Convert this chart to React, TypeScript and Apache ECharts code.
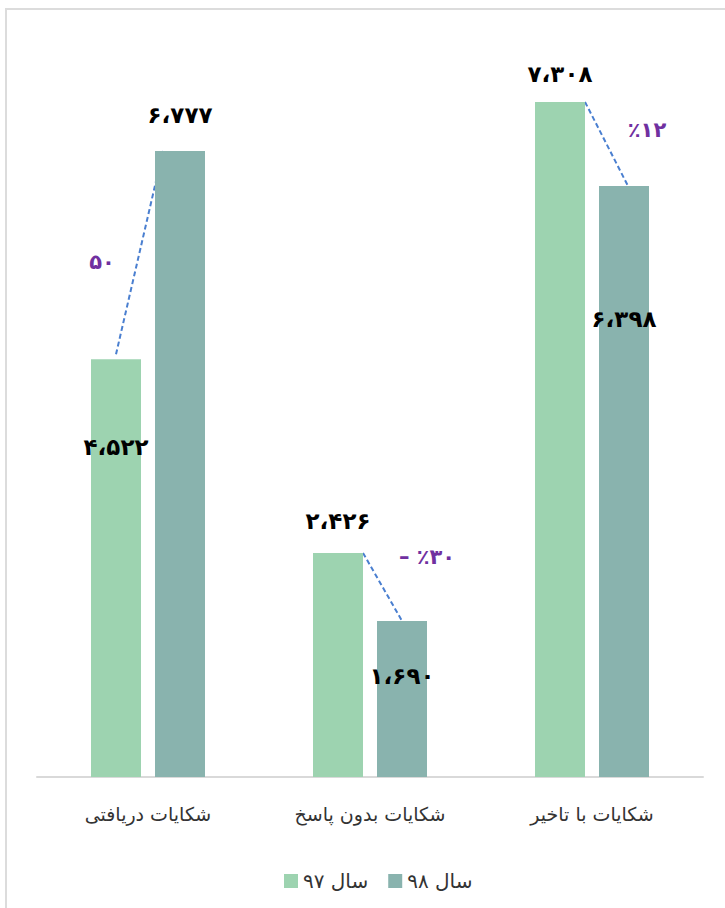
import React, { useEffect, useRef } from "react";
import * as echarts from "echarts";

const categories = ["شکایات دریافتی", "شکایات بدون پاسخ", "شکایات با تاخیر"];
const seriesNames = ["سال ۹۷", "سال ۹۸"];
const values97 = [4522, 2426, 7308];
const values98 = [6777, 1690, 6398];
const changeLabels = ["۵۰", "– ٪۳۰", "٪۱۲"];

const FONT = "'DejaVu Sans', 'Noto Sans', sans-serif";

const toFa = (n: number) => {
  const d = "۰۱۲۳۴۵۶۷۸۹";
  const s = String(n).replace(/\d/g, (c) => d[+c]);
  if (s.length > 3) return s.slice(0, s.length - 3) + "،" + s.slice(s.length - 3);
  return s;
};

// label placement per bar: "top" with distance, or inside offset from bar top
const place97: any[] = [{ inside: 88 }, { top: 20 }, { top: 16 }];
const place98: any[] = [{ top: 24 }, { inside: 55 }, { inside: 133 }];

const mkLabel = (p: any) =>
  p.top !== undefined
    ? { show: true, position: "top", distance: p.top }
    : { show: true, position: ["50%", p.inside], align: "center", verticalAlign: "middle" };

export default function App() {
  const ref = useRef<HTMLDivElement>(null);
  useEffect(() => {
    const chart = echarts.init(ref.current!, null, { renderer: "svg" });
    const labelStyle = {
      color: "#000",
      fontSize: 23,
      fontWeight: "bold" as const,
      fontFamily: FONT,
      formatter: (p: any) => toFa(p.value),
    };
    chart.setOption({
      animation: false,
      backgroundColor: "#fff",
      grid: { left: 37, right: 22, top: 38, bottom: 131 },
      legend: {
        data: seriesNames,
        left: 279,
        top: 866,
        itemWidth: 14,
        itemHeight: 14,
        itemGap: 20,
        icon: "rect",
        textStyle: { fontSize: 20, color: "#333", fontFamily: FONT },
      },
      xAxis: {
        type: "category",
        data: categories,
        axisLine: { lineStyle: { color: "#d9d9d9", width: 2 } },
        axisTick: { show: false },
        axisLabel: { fontSize: 19, color: "#333", fontFamily: FONT, margin: 27 },
      },
      yAxis: {
        type: "value",
        min: 0,
        max: 8000,
        show: false,
        splitLine: { show: false },
      },
      series: [
        {
          name: seriesNames[0],
          type: "bar",
          barWidth: 50,
          barGap: "28%",
          itemStyle: { color: "#9dd3b0" },
          data: values97.map((v, i) => ({ value: v, label: { ...mkLabel(place97[i]), ...labelStyle } })),
        },
        {
          name: seriesNames[1],
          type: "bar",
          barWidth: 50,
          itemStyle: { color: "#89b3ae" },
          data: values98.map((v, i) => ({ value: v, label: { ...mkLabel(place98[i]), ...labelStyle } })),
        },
      ],
    });

    const half = 32; // (barWidth + gap) / 2
    const bw = 50;
    const graphics: any[] = [
      {
        type: "rect",
        shape: { x: 6, y: 9, width: 760, height: 940 },
        style: { fill: "none", stroke: "#dcdcdc", lineWidth: 2 },
        silent: true,
      },
    ];
    const fromDx = [0, bw / 2, bw / 2];
    const fromDy = [-5, 0, 0];
    const toDx = [-bw / 2 + 8, 0, 4];
    categories.forEach((_, i) => {
      const cx = chart.convertToPixel({ xAxisIndex: 0 }, i) as number;
      const y97 = chart.convertToPixel({ yAxisIndex: 0 }, values97[i]) as number;
      const y98 = chart.convertToPixel({ yAxisIndex: 0 }, values98[i]) as number;
      graphics.push({
        type: "line",
        shape: { x1: cx - half + fromDx[i], y1: y97 + fromDy[i], x2: cx + half + toDx[i], y2: y98 },
        style: { stroke: "#4a7fd0", lineWidth: 2, lineDash: [5, 3] },
        silent: true,
      });
    });
    const c0 = chart.convertToPixel({ xAxisIndex: 0 }, 0) as number;
    const c1 = chart.convertToPixel({ xAxisIndex: 0 }, 1) as number;
    const c2 = chart.convertToPixel({ xAxisIndex: 0 }, 2) as number;
    const pctPos = [
      [c0 - 46, (chart.convertToPixel({ yAxisIndex: 0 }, values97[0]) as number) - 97],
      [c1 + 57, (chart.convertToPixel({ yAxisIndex: 0 }, values97[1]) as number) + 4],
      [c2 + 55, (chart.convertToPixel({ yAxisIndex: 0 }, values97[2]) as number) + 28],
    ];
    changeLabels.forEach((t, i) => {
      graphics.push({
        type: "text",
        x: pctPos[i][0],
        y: pctPos[i][1],
        style: {
          text: t,
          fill: "#7030a0",
          fontSize: 21,
          fontWeight: "bold",
          fontFamily: FONT,
          align: "center",
          verticalAlign: "middle",
        },
        silent: true,
      });
    });
    chart.setOption({ graphic: graphics });
    return () => chart.dispose();
  }, []);
  return <div ref={ref} style={{ position: "fixed", left: 0, top: 0, width: 725, height: 908 }} />;
}
